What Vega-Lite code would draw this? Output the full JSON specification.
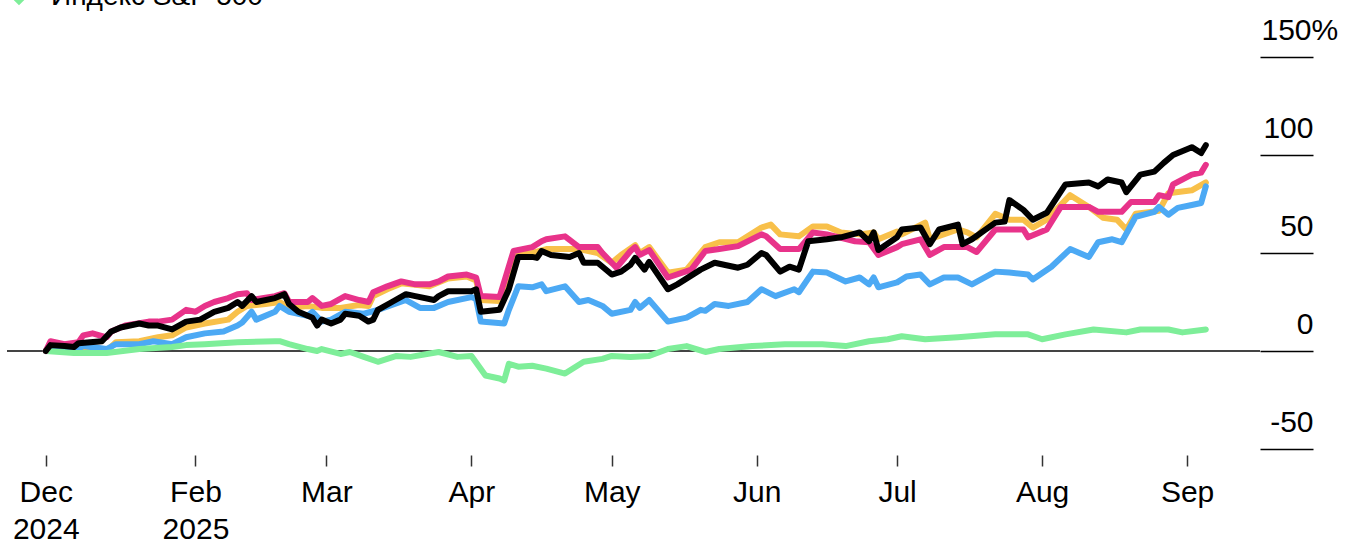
{
  "$schema": "https://vega.github.io/schema/vega-lite/v6.json",
  "width": 1253,
  "height": 392,
  "autosize": {"type": "none"},
  "padding": {"left": 7, "top": 57, "right": 95, "bottom": 94},
  "background": "#ffffff",
  "config": {
    "view": {"stroke": null},
    "font": "Liberation Sans",
    "axis": {"labelFont": "Liberation Sans", "labelColor": "#000000"},
    "legend": {"labelFont": "Liberation Sans"}
  },
  "data": {
    "values": [
      {"s":"Серия 3","d":"2024-12-31","v":0},{"s":"Серия 3","d":"2025-01-06","v":0},{"s":"Серия 3","d":"2025-01-08","v":2},{"s":"Серия 3","d":"2025-01-13","v":0},{"s":"Серия 3","d":"2025-01-15","v":4.5},{"s":"Серия 3","d":"2025-01-20","v":5},{"s":"Серия 3","d":"2025-01-24","v":7},{"s":"Серия 3","d":"2025-01-27","v":8},{"s":"Серия 3","d":"2025-01-30","v":12},{"s":"Серия 3","d":"2025-02-03","v":14},{"s":"Серия 3","d":"2025-02-08","v":16},{"s":"Серия 3","d":"2025-02-10","v":20},{"s":"Серия 3","d":"2025-02-12","v":23},{"s":"Серия 3","d":"2025-02-16","v":24},{"s":"Серия 3","d":"2025-02-19","v":25},{"s":"Серия 3","d":"2025-02-21","v":22},{"s":"Серия 3","d":"2025-02-25","v":23},{"s":"Серия 3","d":"2025-02-28","v":22},{"s":"Серия 3","d":"2025-03-04","v":22},{"s":"Серия 3","d":"2025-03-08","v":23.5},{"s":"Серия 3","d":"2025-03-10","v":23},{"s":"Серия 3","d":"2025-03-11","v":28},{"s":"Серия 3","d":"2025-03-14","v":31.5},{"s":"Серия 3","d":"2025-03-17","v":34.5},{"s":"Серия 3","d":"2025-03-23","v":33},{"s":"Серия 3","d":"2025-03-27","v":37},{"s":"Серия 3","d":"2025-03-31","v":38},{"s":"Серия 3","d":"2025-04-02","v":36},{"s":"Серия 3","d":"2025-04-03","v":26},{"s":"Серия 3","d":"2025-04-07","v":25.5},{"s":"Серия 3","d":"2025-04-10","v":49},{"s":"Серия 3","d":"2025-04-14","v":50},{"s":"Серия 3","d":"2025-04-17","v":52},{"s":"Серия 3","d":"2025-04-21","v":52},{"s":"Серия 3","d":"2025-04-24","v":52},{"s":"Серия 3","d":"2025-04-28","v":50},{"s":"Серия 3","d":"2025-05-01","v":45},{"s":"Серия 3","d":"2025-05-03","v":49},{"s":"Серия 3","d":"2025-05-06","v":54},{"s":"Серия 3","d":"2025-05-07","v":50},{"s":"Серия 3","d":"2025-05-09","v":53},{"s":"Серия 3","d":"2025-05-13","v":40},{"s":"Серия 3","d":"2025-05-17","v":41.5},{"s":"Серия 3","d":"2025-05-21","v":53},{"s":"Серия 3","d":"2025-05-24","v":55.5},{"s":"Серия 3","d":"2025-05-28","v":55.5},{"s":"Серия 3","d":"2025-06-02","v":63},{"s":"Серия 3","d":"2025-06-04","v":64.5},{"s":"Серия 3","d":"2025-06-06","v":59.5},{"s":"Серия 3","d":"2025-06-10","v":58.5},{"s":"Серия 3","d":"2025-06-13","v":63.5},{"s":"Серия 3","d":"2025-06-16","v":63.5},{"s":"Серия 3","d":"2025-06-19","v":60.5},{"s":"Серия 3","d":"2025-06-23","v":59.5},{"s":"Серия 3","d":"2025-06-26","v":60.5},{"s":"Серия 3","d":"2025-06-27","v":57},{"s":"Серия 3","d":"2025-07-01","v":61},{"s":"Серия 3","d":"2025-07-02","v":59.5},{"s":"Серия 3","d":"2025-07-07","v":65.5},{"s":"Серия 3","d":"2025-07-08","v":57},{"s":"Серия 3","d":"2025-07-14","v":62},{"s":"Серия 3","d":"2025-07-16","v":60.5},{"s":"Серия 3","d":"2025-07-18","v":58},{"s":"Серия 3","d":"2025-07-22","v":70},{"s":"Серия 3","d":"2025-07-25","v":67},{"s":"Серия 3","d":"2025-07-28","v":67},{"s":"Серия 3","d":"2025-07-30","v":63},{"s":"Серия 3","d":"2025-08-02","v":67},{"s":"Серия 3","d":"2025-08-07","v":79.5},{"s":"Серия 3","d":"2025-08-11","v":73.5},{"s":"Серия 3","d":"2025-08-14","v":68},{"s":"Серия 3","d":"2025-08-17","v":67},{"s":"Серия 3","d":"2025-08-19","v":62},{"s":"Серия 3","d":"2025-08-21","v":70},{"s":"Серия 3","d":"2025-08-26","v":71.5},{"s":"Серия 3","d":"2025-08-28","v":80.5},{"s":"Серия 3","d":"2025-09-02","v":82},{"s":"Серия 3","d":"2025-09-05","v":86},

      {"s":"Серия 4","d":"2024-12-31","v":0},{"s":"Серия 4","d":"2025-01-06","v":0},{"s":"Серия 4","d":"2025-01-08","v":2.5},{"s":"Серия 4","d":"2025-01-13","v":1},{"s":"Серия 4","d":"2025-01-15","v":3.5},{"s":"Серия 4","d":"2025-01-20","v":3.5},{"s":"Серия 4","d":"2025-01-23","v":5},{"s":"Серия 4","d":"2025-01-27","v":3.5},{"s":"Серия 4","d":"2025-01-30","v":7},{"s":"Серия 4","d":"2025-02-03","v":9},{"s":"Серия 4","d":"2025-02-07","v":10},{"s":"Серия 4","d":"2025-02-10","v":13},{"s":"Серия 4","d":"2025-02-11","v":14.5},{"s":"Серия 4","d":"2025-02-13","v":20},{"s":"Серия 4","d":"2025-02-14","v":16},{"s":"Серия 4","d":"2025-02-18","v":20},{"s":"Серия 4","d":"2025-02-19","v":23},{"s":"Серия 4","d":"2025-02-21","v":20},{"s":"Серия 4","d":"2025-02-25","v":18},{"s":"Серия 4","d":"2025-02-26","v":20},{"s":"Серия 4","d":"2025-02-28","v":15},{"s":"Серия 4","d":"2025-03-02","v":16},{"s":"Серия 4","d":"2025-03-05","v":20},{"s":"Серия 4","d":"2025-03-09","v":19},{"s":"Серия 4","d":"2025-03-12","v":21},{"s":"Серия 4","d":"2025-03-18","v":26},{"s":"Серия 4","d":"2025-03-21","v":22},{"s":"Серия 4","d":"2025-03-24","v":22},{"s":"Серия 4","d":"2025-03-27","v":25},{"s":"Серия 4","d":"2025-04-01","v":27.5},{"s":"Серия 4","d":"2025-04-02","v":26.5},{"s":"Серия 4","d":"2025-04-03","v":15},{"s":"Серия 4","d":"2025-04-08","v":14},{"s":"Серия 4","d":"2025-04-09","v":21},{"s":"Серия 4","d":"2025-04-11","v":33},{"s":"Серия 4","d":"2025-04-14","v":32.5},{"s":"Серия 4","d":"2025-04-16","v":34},{"s":"Серия 4","d":"2025-04-17","v":30.5},{"s":"Серия 4","d":"2025-04-21","v":33},{"s":"Серия 4","d":"2025-04-24","v":25},{"s":"Серия 4","d":"2025-04-26","v":26},{"s":"Серия 4","d":"2025-04-28","v":24},{"s":"Серия 4","d":"2025-04-29","v":23},{"s":"Серия 4","d":"2025-05-01","v":19},{"s":"Серия 4","d":"2025-05-05","v":21},{"s":"Серия 4","d":"2025-05-06","v":25},{"s":"Серия 4","d":"2025-05-07","v":22},{"s":"Серия 4","d":"2025-05-09","v":26},{"s":"Серия 4","d":"2025-05-13","v":15},{"s":"Серия 4","d":"2025-05-17","v":17},{"s":"Серия 4","d":"2025-05-20","v":21},{"s":"Серия 4","d":"2025-05-21","v":20.5},{"s":"Серия 4","d":"2025-05-23","v":24},{"s":"Серия 4","d":"2025-05-26","v":23},{"s":"Серия 4","d":"2025-05-30","v":25},{"s":"Серия 4","d":"2025-06-02","v":31.5},{"s":"Серия 4","d":"2025-06-05","v":28},{"s":"Серия 4","d":"2025-06-09","v":31.5},{"s":"Серия 4","d":"2025-06-10","v":30},{"s":"Серия 4","d":"2025-06-13","v":40.5},{"s":"Серия 4","d":"2025-06-16","v":40},{"s":"Серия 4","d":"2025-06-20","v":35.5},{"s":"Серия 4","d":"2025-06-23","v":37.5},{"s":"Серия 4","d":"2025-06-25","v":34},{"s":"Серия 4","d":"2025-06-26","v":37.5},{"s":"Серия 4","d":"2025-06-27","v":32.5},{"s":"Серия 4","d":"2025-07-01","v":35},{"s":"Серия 4","d":"2025-07-03","v":38},{"s":"Серия 4","d":"2025-07-06","v":39},{"s":"Серия 4","d":"2025-07-08","v":34},{"s":"Серия 4","d":"2025-07-11","v":37.5},{"s":"Серия 4","d":"2025-07-14","v":37.5},{"s":"Серия 4","d":"2025-07-17","v":34},{"s":"Серия 4","d":"2025-07-22","v":40.5},{"s":"Серия 4","d":"2025-07-25","v":40},{"s":"Серия 4","d":"2025-07-29","v":39},{"s":"Серия 4","d":"2025-07-30","v":36.5},{"s":"Серия 4","d":"2025-08-03","v":43},{"s":"Серия 4","d":"2025-08-07","v":52},{"s":"Серия 4","d":"2025-08-11","v":48},{"s":"Серия 4","d":"2025-08-13","v":55.5},{"s":"Серия 4","d":"2025-08-16","v":57},{"s":"Серия 4","d":"2025-08-18","v":55.5},{"s":"Серия 4","d":"2025-08-21","v":68.5},{"s":"Серия 4","d":"2025-08-25","v":71},{"s":"Серия 4","d":"2025-08-26","v":73.5},{"s":"Серия 4","d":"2025-08-28","v":69.5},{"s":"Серия 4","d":"2025-08-30","v":73},{"s":"Серия 4","d":"2025-09-02","v":74.5},{"s":"Серия 4","d":"2025-09-04","v":75.5},{"s":"Серия 4","d":"2025-09-05","v":84},

      {"s":"Индекс S&P 500","d":"2024-12-31","v":0},{"s":"Индекс S&P 500","d":"2025-01-06","v":-1},{"s":"Индекс S&P 500","d":"2025-01-13","v":-1},{"s":"Индекс S&P 500","d":"2025-01-20","v":1},{"s":"Индекс S&P 500","d":"2025-01-27","v":2},{"s":"Индекс S&P 500","d":"2025-01-30","v":3},{"s":"Индекс S&P 500","d":"2025-02-03","v":3.5},{"s":"Индекс S&P 500","d":"2025-02-10","v":4.5},{"s":"Индекс S&P 500","d":"2025-02-18","v":5},{"s":"Индекс S&P 500","d":"2025-02-19","v":5},{"s":"Индекс S&P 500","d":"2025-02-21","v":3.5},{"s":"Индекс S&P 500","d":"2025-02-25","v":1},{"s":"Индекс S&P 500","d":"2025-02-27","v":0},{"s":"Индекс S&P 500","d":"2025-02-28","v":1},{"s":"Индекс S&P 500","d":"2025-03-04","v":-1.5},{"s":"Индекс S&P 500","d":"2025-03-06","v":-0.5},{"s":"Индекс S&P 500","d":"2025-03-09","v":-3},{"s":"Индекс S&P 500","d":"2025-03-12","v":-5.5},{"s":"Индекс S&P 500","d":"2025-03-16","v":-2.5},{"s":"Индекс S&P 500","d":"2025-03-19","v":-3},{"s":"Индекс S&P 500","d":"2025-03-25","v":-0.5},{"s":"Индекс S&P 500","d":"2025-03-29","v":-3},{"s":"Индекс S&P 500","d":"2025-04-01","v":-2.5},{"s":"Индекс S&P 500","d":"2025-04-04","v":-12.5},{"s":"Индекс S&P 500","d":"2025-04-07","v":-14},{"s":"Индекс S&P 500","d":"2025-04-08","v":-15},{"s":"Индекс S&P 500","d":"2025-04-09","v":-6.5},{"s":"Индекс S&P 500","d":"2025-04-11","v":-8},{"s":"Индекс S&P 500","d":"2025-04-14","v":-7.5},{"s":"Индекс S&P 500","d":"2025-04-17","v":-9},{"s":"Индекс S&P 500","d":"2025-04-21","v":-11.5},{"s":"Индекс S&P 500","d":"2025-04-25","v":-5.5},{"s":"Индекс S&P 500","d":"2025-04-29","v":-4},{"s":"Индекс S&P 500","d":"2025-05-01","v":-2.5},{"s":"Индекс S&P 500","d":"2025-05-05","v":-3},{"s":"Индекс S&P 500","d":"2025-05-09","v":-2.5},{"s":"Индекс S&P 500","d":"2025-05-13","v":1},{"s":"Индекс S&P 500","d":"2025-05-17","v":2.5},{"s":"Индекс S&P 500","d":"2025-05-21","v":-0.5},{"s":"Индекс S&P 500","d":"2025-05-24","v":1},{"s":"Индекс S&P 500","d":"2025-05-31","v":2.5},{"s":"Индекс S&P 500","d":"2025-06-07","v":3.5},{"s":"Индекс S&P 500","d":"2025-06-15","v":3.5},{"s":"Индекс S&P 500","d":"2025-06-20","v":2.5},{"s":"Индекс S&P 500","d":"2025-06-25","v":5},{"s":"Индекс S&P 500","d":"2025-06-29","v":6},{"s":"Индекс S&P 500","d":"2025-07-02","v":7.5},{"s":"Индекс S&P 500","d":"2025-07-07","v":6},{"s":"Индекс S&P 500","d":"2025-07-14","v":7},{"s":"Индекс S&P 500","d":"2025-07-22","v":8.5},{"s":"Индекс S&P 500","d":"2025-07-29","v":8.5},{"s":"Индекс S&P 500","d":"2025-08-01","v":6},{"s":"Индекс S&P 500","d":"2025-08-06","v":8.5},{"s":"Индекс S&P 500","d":"2025-08-12","v":11},{"s":"Индекс S&P 500","d":"2025-08-19","v":9.5},{"s":"Индекс S&P 500","d":"2025-08-22","v":11},{"s":"Индекс S&P 500","d":"2025-08-28","v":11},{"s":"Индекс S&P 500","d":"2025-08-31","v":9.5},{"s":"Индекс S&P 500","d":"2025-09-05","v":11},

      {"s":"Серия 2","d":"2024-12-31","v":0},{"s":"Серия 2","d":"2025-01-01","v":5},{"s":"Серия 2","d":"2025-01-04","v":3.5},{"s":"Серия 2","d":"2025-01-07","v":4.5},{"s":"Серия 2","d":"2025-01-08","v":8},{"s":"Серия 2","d":"2025-01-10","v":9},{"s":"Серия 2","d":"2025-01-13","v":7},{"s":"Серия 2","d":"2025-01-14","v":10},{"s":"Серия 2","d":"2025-01-17","v":13},{"s":"Серия 2","d":"2025-01-22","v":15},{"s":"Серия 2","d":"2025-01-24","v":15},{"s":"Серия 2","d":"2025-01-27","v":16},{"s":"Серия 2","d":"2025-01-30","v":21},{"s":"Серия 2","d":"2025-02-01","v":20},{"s":"Серия 2","d":"2025-02-03","v":23},{"s":"Серия 2","d":"2025-02-05","v":25},{"s":"Серия 2","d":"2025-02-08","v":27},{"s":"Серия 2","d":"2025-02-10","v":29},{"s":"Серия 2","d":"2025-02-12","v":29.5},{"s":"Серия 2","d":"2025-02-13","v":26},{"s":"Серия 2","d":"2025-02-18","v":28},{"s":"Серия 2","d":"2025-02-20","v":29.5},{"s":"Серия 2","d":"2025-02-21","v":25},{"s":"Серия 2","d":"2025-02-25","v":25},{"s":"Серия 2","d":"2025-02-26","v":27},{"s":"Серия 2","d":"2025-02-28","v":23},{"s":"Серия 2","d":"2025-03-02","v":24},{"s":"Серия 2","d":"2025-03-05","v":28},{"s":"Серия 2","d":"2025-03-08","v":26},{"s":"Серия 2","d":"2025-03-10","v":25},{"s":"Серия 2","d":"2025-03-11","v":30},{"s":"Серия 2","d":"2025-03-14","v":33},{"s":"Серия 2","d":"2025-03-17","v":35.5},{"s":"Серия 2","d":"2025-03-20","v":34},{"s":"Серия 2","d":"2025-03-23","v":34},{"s":"Серия 2","d":"2025-03-25","v":35.5},{"s":"Серия 2","d":"2025-03-27","v":38},{"s":"Серия 2","d":"2025-03-31","v":39},{"s":"Серия 2","d":"2025-04-02","v":37.5},{"s":"Серия 2","d":"2025-04-03","v":28},{"s":"Серия 2","d":"2025-04-07","v":27.5},{"s":"Серия 2","d":"2025-04-10","v":51},{"s":"Серия 2","d":"2025-04-14","v":53},{"s":"Серия 2","d":"2025-04-16","v":56},{"s":"Серия 2","d":"2025-04-17","v":57},{"s":"Серия 2","d":"2025-04-21","v":58.5},{"s":"Серия 2","d":"2025-04-24","v":53},{"s":"Серия 2","d":"2025-04-28","v":53},{"s":"Серия 2","d":"2025-04-29","v":50},{"s":"Серия 2","d":"2025-05-02","v":42.5},{"s":"Серия 2","d":"2025-05-05","v":51},{"s":"Серия 2","d":"2025-05-06","v":53},{"s":"Серия 2","d":"2025-05-07","v":49},{"s":"Серия 2","d":"2025-05-09","v":51.5},{"s":"Серия 2","d":"2025-05-13","v":37.5},{"s":"Серия 2","d":"2025-05-18","v":41.5},{"s":"Серия 2","d":"2025-05-21","v":51},{"s":"Серия 2","d":"2025-05-24","v":52},{"s":"Серия 2","d":"2025-05-28","v":53.5},{"s":"Серия 2","d":"2025-06-02","v":59.5},{"s":"Серия 2","d":"2025-06-03","v":58.5},{"s":"Серия 2","d":"2025-06-06","v":52},{"s":"Серия 2","d":"2025-06-10","v":52},{"s":"Серия 2","d":"2025-06-13","v":60.5},{"s":"Серия 2","d":"2025-06-16","v":59.5},{"s":"Серия 2","d":"2025-06-22","v":56},{"s":"Серия 2","d":"2025-06-25","v":55.5},{"s":"Серия 2","d":"2025-06-27","v":49},{"s":"Серия 2","d":"2025-07-01","v":53},{"s":"Серия 2","d":"2025-07-02","v":54.5},{"s":"Серия 2","d":"2025-07-06","v":57},{"s":"Серия 2","d":"2025-07-08","v":49},{"s":"Серия 2","d":"2025-07-11","v":53},{"s":"Серия 2","d":"2025-07-16","v":53},{"s":"Серия 2","d":"2025-07-18","v":50.5},{"s":"Серия 2","d":"2025-07-22","v":62},{"s":"Серия 2","d":"2025-07-25","v":62},{"s":"Серия 2","d":"2025-07-28","v":62},{"s":"Серия 2","d":"2025-07-29","v":58},{"s":"Серия 2","d":"2025-08-02","v":62},{"s":"Серия 2","d":"2025-08-05","v":73.5},{"s":"Серия 2","d":"2025-08-11","v":73.5},{"s":"Серия 2","d":"2025-08-13","v":71},{"s":"Серия 2","d":"2025-08-18","v":71},{"s":"Серия 2","d":"2025-08-20","v":76},{"s":"Серия 2","d":"2025-08-25","v":76},{"s":"Серия 2","d":"2025-08-26","v":79.5},{"s":"Серия 2","d":"2025-08-28","v":78.5},{"s":"Серия 2","d":"2025-08-29","v":85},{"s":"Серия 2","d":"2025-09-02","v":90},{"s":"Серия 2","d":"2025-09-04","v":91},{"s":"Серия 2","d":"2025-09-05","v":95},

      {"s":"Серия 1","d":"2024-12-31","v":0},{"s":"Серия 1","d":"2025-01-01","v":3},{"s":"Серия 1","d":"2025-01-04","v":2.5},{"s":"Серия 1","d":"2025-01-06","v":2},{"s":"Серия 1","d":"2025-01-07","v":4},{"s":"Серия 1","d":"2025-01-12","v":5},{"s":"Серия 1","d":"2025-01-14","v":10},{"s":"Серия 1","d":"2025-01-16","v":12},{"s":"Серия 1","d":"2025-01-20","v":14},{"s":"Серия 1","d":"2025-01-22","v":13},{"s":"Серия 1","d":"2025-01-24","v":13},{"s":"Серия 1","d":"2025-01-27","v":11},{"s":"Серия 1","d":"2025-01-30","v":15},{"s":"Серия 1","d":"2025-02-02","v":16},{"s":"Серия 1","d":"2025-02-05","v":20},{"s":"Серия 1","d":"2025-02-08","v":22},{"s":"Серия 1","d":"2025-02-10","v":25},{"s":"Серия 1","d":"2025-02-11","v":23},{"s":"Серия 1","d":"2025-02-13","v":28},{"s":"Серия 1","d":"2025-02-14","v":25},{"s":"Серия 1","d":"2025-02-18","v":27},{"s":"Серия 1","d":"2025-02-20","v":29},{"s":"Серия 1","d":"2025-02-21","v":24},{"s":"Серия 1","d":"2025-02-23","v":20},{"s":"Серия 1","d":"2025-02-25","v":18},{"s":"Серия 1","d":"2025-02-26","v":17},{"s":"Серия 1","d":"2025-02-27","v":13},{"s":"Серия 1","d":"2025-02-28","v":16},{"s":"Серия 1","d":"2025-03-02","v":14},{"s":"Серия 1","d":"2025-03-04","v":16},{"s":"Серия 1","d":"2025-03-05","v":19},{"s":"Серия 1","d":"2025-03-08","v":18},{"s":"Серия 1","d":"2025-03-10","v":15},{"s":"Серия 1","d":"2025-03-11","v":16},{"s":"Серия 1","d":"2025-03-12","v":21},{"s":"Серия 1","d":"2025-03-15","v":25},{"s":"Серия 1","d":"2025-03-18","v":29},{"s":"Серия 1","d":"2025-03-20","v":28},{"s":"Серия 1","d":"2025-03-24","v":26},{"s":"Серия 1","d":"2025-03-25","v":28},{"s":"Серия 1","d":"2025-03-27","v":30.5},{"s":"Серия 1","d":"2025-04-01","v":30.5},{"s":"Серия 1","d":"2025-04-02","v":31.5},{"s":"Серия 1","d":"2025-04-03","v":20},{"s":"Серия 1","d":"2025-04-07","v":21},{"s":"Серия 1","d":"2025-04-09","v":31.5},{"s":"Серия 1","d":"2025-04-11","v":48},{"s":"Серия 1","d":"2025-04-14","v":48},{"s":"Серия 1","d":"2025-04-15","v":47.5},{"s":"Серия 1","d":"2025-04-16","v":51},{"s":"Серия 1","d":"2025-04-18","v":49},{"s":"Серия 1","d":"2025-04-22","v":48},{"s":"Серия 1","d":"2025-04-24","v":50},{"s":"Серия 1","d":"2025-04-25","v":45},{"s":"Серия 1","d":"2025-04-28","v":45},{"s":"Серия 1","d":"2025-05-01","v":39},{"s":"Серия 1","d":"2025-05-03","v":40.5},{"s":"Серия 1","d":"2025-05-05","v":44},{"s":"Серия 1","d":"2025-05-06","v":47.5},{"s":"Серия 1","d":"2025-05-08","v":41.5},{"s":"Серия 1","d":"2025-05-09","v":45.5},{"s":"Серия 1","d":"2025-05-13","v":31.5},{"s":"Серия 1","d":"2025-05-15","v":34},{"s":"Серия 1","d":"2025-05-20","v":41.5},{"s":"Серия 1","d":"2025-05-23","v":45},{"s":"Серия 1","d":"2025-05-28","v":42.5},{"s":"Серия 1","d":"2025-05-30","v":44},{"s":"Серия 1","d":"2025-06-02","v":50},{"s":"Серия 1","d":"2025-06-03","v":49},{"s":"Серия 1","d":"2025-06-06","v":40.5},{"s":"Серия 1","d":"2025-06-08","v":43},{"s":"Серия 1","d":"2025-06-10","v":41.5},{"s":"Серия 1","d":"2025-06-12","v":56},{"s":"Серия 1","d":"2025-06-16","v":57},{"s":"Серия 1","d":"2025-06-19","v":58},{"s":"Серия 1","d":"2025-06-23","v":60.5},{"s":"Серия 1","d":"2025-06-25","v":56},{"s":"Серия 1","d":"2025-06-26","v":60.5},{"s":"Серия 1","d":"2025-06-27","v":51.5},{"s":"Серия 1","d":"2025-07-01","v":58},{"s":"Серия 1","d":"2025-07-02","v":62},{"s":"Серия 1","d":"2025-07-06","v":63},{"s":"Серия 1","d":"2025-07-08","v":54.5},{"s":"Серия 1","d":"2025-07-10","v":62},{"s":"Серия 1","d":"2025-07-14","v":64.5},{"s":"Серия 1","d":"2025-07-15","v":54.5},{"s":"Серия 1","d":"2025-07-17","v":57},{"s":"Серия 1","d":"2025-07-22","v":65.5},{"s":"Серия 1","d":"2025-07-24","v":66},{"s":"Серия 1","d":"2025-07-25","v":77},{"s":"Серия 1","d":"2025-07-28","v":72},{"s":"Серия 1","d":"2025-07-30","v":67},{"s":"Серия 1","d":"2025-08-02","v":70.5},{"s":"Серия 1","d":"2025-08-06","v":85},{"s":"Серия 1","d":"2025-08-11","v":86},{"s":"Серия 1","d":"2025-08-13","v":84},{"s":"Серия 1","d":"2025-08-15","v":87.5},{"s":"Серия 1","d":"2025-08-18","v":86},{"s":"Серия 1","d":"2025-08-19","v":81},{"s":"Серия 1","d":"2025-08-22","v":90},{"s":"Серия 1","d":"2025-08-25","v":91.5},{"s":"Серия 1","d":"2025-08-27","v":96},{"s":"Серия 1","d":"2025-08-29","v":100},{"s":"Серия 1","d":"2025-09-02","v":104},{"s":"Серия 1","d":"2025-09-04","v":101},{"s":"Серия 1","d":"2025-09-05","v":105}
    ]
  },
  "encoding": {
    "y": {
      "field": "v",
      "type": "quantitative",
      "scale": {"domain": [-50, 150], "nice": false, "zero": false},
      "axis": {
        "title": null,
        "orient": "right",
        "values": [-50, 0, 50, 100, 150],
        "labelExpr": "datum.value == 150 ? '150%' : datum.value",
        "domain": false,
        "grid": false,
        "tickSize": 53,
        "tickWidth": 1.5,
        "tickColor": "#000000",
        "labelFontSize": 30,
        "labelAlign": {"condition": {"test": "datum.value == 150", "value": "left"}, "value": "right"},
        "labelPadding": {"condition": {"test": "datum.value == 150", "value": -52}, "value": 0},
        "labelBaseline": "alphabetic",
        "labelOffset": -18
      }
    }
  },
  "layer": [
    {
      "mark": {"type": "rule", "color": "#444444", "strokeWidth": 1.5},
      "encoding": {
        "y": {"datum": 0, "type": "quantitative"}
      }
    },
    {
      "mark": {"type": "line", "strokeWidth": 6, "strokeCap": "round", "strokeJoin": "round", "interpolate": "linear"},
      "encoding": {
        "x": {
          "field": "d",
          "type": "temporal",
          "scale": {
            "type": "utc",
            "domain": [
              {"year": 2024, "month": 12, "date": 22, "hours": 17, "utc": true},
              {"year": 2025, "month": 9, "date": 16, "hours": 14, "utc": true}
            ]
          },
          "axis": {
            "title": null,
            "values": [
              {"year": 2024, "month": 12, "date": 31, "utc": true},
              {"year": 2025, "month": 2, "date": 1, "utc": true},
              {"year": 2025, "month": 3, "date": 1, "utc": true},
              {"year": 2025, "month": 4, "date": 1, "utc": true},
              {"year": 2025, "month": 5, "date": 1, "utc": true},
              {"year": 2025, "month": 6, "date": 1, "utc": true},
              {"year": 2025, "month": 7, "date": 1, "utc": true},
              {"year": 2025, "month": 8, "date": 1, "utc": true},
              {"year": 2025, "month": 9, "date": 1, "utc": true}
            ],
            "labelExpr": "utcmonth(datum.value) == 11 ? ['Dec', '2024'] : (utcmonth(datum.value) == 1 ? ['Feb', '2025'] : utcFormat(datum.value, '%b'))",
            "domain": false,
            "grid": false,
            "offset": 6,
            "tickSize": 11,
            "tickWidth": 1.5,
            "tickColor": "#333333",
            "labelFontSize": 30,
            "labelLineHeight": 37,
            "labelPadding": 11,
            "labelAlign": "center",
            "labelBaseline": "top",
            "labelFlush": false,
            "labelOverlap": false
          }
        },
        "color": {
          "field": "s",
          "type": "nominal",
          "scale": {
            "domain": ["Серия 3", "Серия 4", "Индекс S&P 500", "Серия 2", "Серия 1"],
            "range": ["#f8c04a", "#4ca9f4", "#7eee99", "#e8338a", "#000000"]
          },
          "legend": {
            "values": ["Индекс S&P 500"],
            "orient": "none",
            "legendX": -2,
            "legendY": -74,
            "title": null,
            "padding": 0,
            "labelFontSize": 28,
            "labelLimit": 0,
            "labelColor": "#000000",
            "symbolType": "diamond",
            "symbolSize": 120,
            "symbolStrokeWidth": 4,
            "labelOffset": 18
          }
        }
      }
    }
  ]
}
